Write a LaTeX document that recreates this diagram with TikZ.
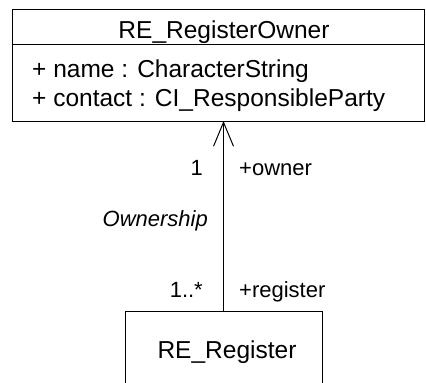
\documentclass[tikz,border=0pt]{standalone}
\usepackage{fontspec}
\setmainfont{Liberation Sans}
\usetikzlibrary{arrows.meta}
\tikzset{
  box/.style={draw, line width=1pt, inner sep=0pt, outer sep=0pt},
  txt/.style={inner sep=0pt, font=\fontsize{24.5}{29}\selectfont},
  lbl/.style={inner sep=0pt, font=\fontsize{22}{26}\selectfont},
  assoc/.style={line width=1pt, -{Straight Barb[length=24pt,width=20pt,line width=1pt]}}
}
\begin{document}
\begin{tikzpicture}[x=1pt,y=1pt]
\useasboundingbox (0,0) rectangle (426,-383);
\clip (0,0) rectangle (426,-383);
% owner class
\node[box, minimum width=412pt, minimum height=112pt] (owner) at (218,-65) {};
\draw[line width=1pt] (owner.west |- 0,-44) -- (owner.east |- 0,-44);
\node[txt, anchor=base] (ownername) at (224,-38) {RE\_RegisterOwner};
\node[txt, anchor=base west] (attr1) at (32,-77) {+ name : CharacterString};
\node[txt, anchor=base west] (attr2) at (32,-106) {+ contact : CI\_ResponsibleParty};
% register class
\node[box, minimum width=197pt, minimum height=84pt] (reg) at (223.5,-353) {};
\node[txt, anchor=base] (regname) at (227,-358) {RE\_Register};
% association
\draw[assoc] (reg.north) -- (reg.north |- owner.south);
\node[lbl, anchor=base east] (m1) at (203,-175) {1};
\node[lbl, anchor=base west] (r1) at (239,-175) {+owner};
\node[lbl, anchor=base east] (an) at (208,-226) {\itshape Ownership};
\node[lbl, anchor=base east] (m2) at (203,-297) {1..*};
\node[lbl, anchor=base west] (r2) at (239,-297) {+register};
\end{tikzpicture}
\end{document}
